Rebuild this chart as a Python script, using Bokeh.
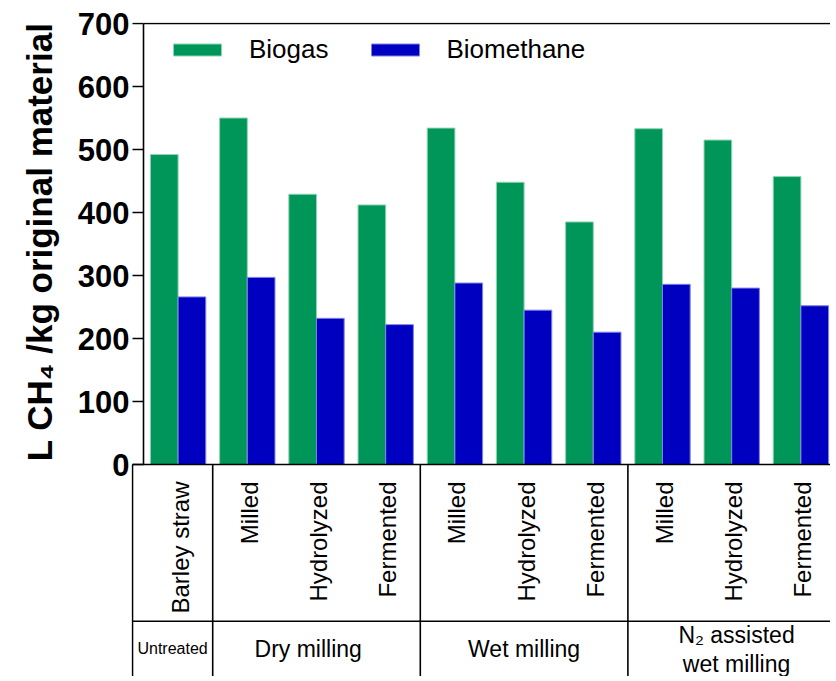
import numpy as np
from bokeh.plotting import figure
from bokeh.models import Range1d, FixedTicker, ColumnDataSource, Title
from bokeh.core.properties import value
from bokeh.embed import file_html
from bokeh.resources import INLINE

# ---- data ----
treatments = ["Barley straw", "Milled", "Hydrolyzed", "Fermented",
              "Milled", "Hydrolyzed", "Fermented",
              "Milled", "Hydrolyzed", "Fermented"]
groups = ["Untreated", "Dry milling", "Wet milling", "N\u2082 assisted"]
group_sizes = [1, 3, 3, 3]
biogas = [492, 550, 429, 412, 534, 448, 385, 533, 515, 457]
biomethane = [266, 297, 232, 222, 288, 245, 210, 286, 280, 252]
y_ticks = [0, 100, 200, 300, 400, 500, 600, 700]
y_title = "L CH\u2084 /kg original material"

FONT = "Liberation Sans"
GREEN = "#00965A"
BLUE = "#0000C0"

# ---- layout constants (screen pixels) ----
W, H = 830, 676
ML, MT = 131, 22                 # frame left / top inside the figure
PX_PER_UNIT_Y = 441 / 700.0
PX_PER_UNIT_X = 69.2
AXIS_PX = 12                     # distance frame-left -> y axis line
BORDER_PX = 1                    # table left border from frame-left
FRAME_W = W - ML
FRAME_H = H - MT
TABLE_PX = FRAME_H - 442

X_START = -AXIS_PX / PX_PER_UNIT_X
X_END = X_START + FRAME_W / PX_PER_UNIT_X
BORDER_X = (BORDER_PX - AXIS_PX) / PX_PER_UNIT_X
Y_BOTTOM = -TABLE_PX / PX_PER_UNIT_Y
Y_TOP = 700 + 1 / PX_PER_UNIT_Y


def py(px_below_zero):
    """pixels below the zero line -> data y"""
    return -px_below_zero / PX_PER_UNIT_Y


p = figure(width=W, height=H,
           x_range=Range1d(X_START, X_END), y_range=Range1d(Y_BOTTOM, Y_TOP),
           output_backend="svg", toolbar_location=None,
           min_border_left=ML, min_border_right=0,
           min_border_top=MT, min_border_bottom=0,
           x_axis_location=None)
p.outline_line_color = None
p.grid.visible = False
p.background_fill_color = "white"

# y axis: labels only, line/ticks drawn as segments
ax = p.yaxis[0]
ax.ticker = FixedTicker(ticks=y_ticks)
ax.bounds = (0, 700)
ax.axis_line_color = None
ax.major_tick_line_color = None
ax.minor_tick_line_color = None
ax.major_label_standoff = -4
ax.major_label_text_font = FONT
ax.major_label_text_font_style = "bold"
ax.major_label_text_font_size = "31px"
ax.major_label_text_color = "black"

# y title placed at the top of the left panel
p.add_layout(Title(text=y_title, align="right", text_font=FONT, text_font_style="bold",
                   text_font_size="35px", text_color="black", standoff=31), "left")

n = len(treatments)
idx = np.arange(n)

# bars
src = ColumnDataSource(dict(xg=idx + 0.3, xb=idx + 0.7, biogas=biogas, biomethane=biomethane))
p.vbar(x="xg", top="biogas", bottom=0, width=0.4, source=src,
       fill_color=GREEN, line_color="#8fd3b4", line_width=1, legend_label="Biogas")
p.vbar(x="xb", top="biomethane", bottom=0, width=0.4, source=src,
       fill_color=BLUE, line_color="#8080e8", line_width=1, legend_label="Biomethane")

LW = 1.6
# axis line and frame top
p.segment(x0=[0], y0=[0], x1=[0], y1=[700], line_color="black", line_width=LW)
p.segment(x0=[0], y0=[700], x1=[X_END + 1], y1=[700], line_color="black", line_width=LW)
# ticks
p.segment(x0=[BORDER_X] * len(y_ticks), y0=y_ticks, x1=[0] * len(y_ticks), y1=y_ticks,
          line_color="black", line_width=LW)

# table lines
MID_Y = py(156.7)
p.segment(x0=[BORDER_X], y0=[0], x1=[X_END + 1], y1=[0], line_color="black", line_width=LW)
p.segment(x0=[BORDER_X], y0=[MID_Y], x1=[X_END + 1], y1=[MID_Y], line_color="black", line_width=LW)
bounds = np.cumsum(group_sizes)[:-1]
vx = [BORDER_X] + [float(b) for b in bounds]
p.segment(x0=vx, y0=[0] * len(vx), x1=vx, y1=[Y_BOTTOM - 20] * len(vx),
          line_color="black", line_width=LW)

# treatment labels (rotated)
p.text(x=idx + 0.5, y=[py(17)] * n, text=treatments, angle=np.pi / 2,
       text_align="right", text_baseline="middle", x_offset=2,
       text_font=value(FONT), text_font_size="24px", text_color="black")

# group labels
starts = np.concatenate([[0], np.cumsum(group_sizes)[:-1]]).astype(float)
ends = np.cumsum(group_sizes).astype(float)
starts[0] = BORDER_X
centers = (starts + ends) / 2
GY = py(184)
p.text(x=[centers[0]], y=[GY], text=[groups[0]], text_align="center", text_baseline="middle",
       text_font=value(FONT), text_font_size="16px", text_color="black")
p.text(x=[centers[1] - 0.12, centers[2]], y=[GY, GY], text=groups[1:3],
       text_align="center", text_baseline="middle",
       text_font=value(FONT), text_font_size="23px", text_color="black")
p.text(x=[centers[3] + 0.07, centers[3] + 0.07],
       y=[py(170), py(199)],
       text=[groups[3], "wet milling"], text_align="center", text_baseline="middle",
       text_font=value(FONT), text_font_size="23px", text_color="black")

# legend
lg = p.legend[0]
lg.orientation = "horizontal"
lg.location = (36, 402 + TABLE_PX - 3)
lg.border_line_color = None
lg.background_fill_alpha = 0
lg.padding = 0
lg.margin = 0
lg.spacing = 36
lg.glyph_width = 60
lg.glyph_height = 15
lg.label_standoff = 22
lg.label_text_font = FONT
lg.label_text_font_size = "26px"
lg.label_text_color = "black"

open("out.html", "w").write(file_html(p, INLINE))
